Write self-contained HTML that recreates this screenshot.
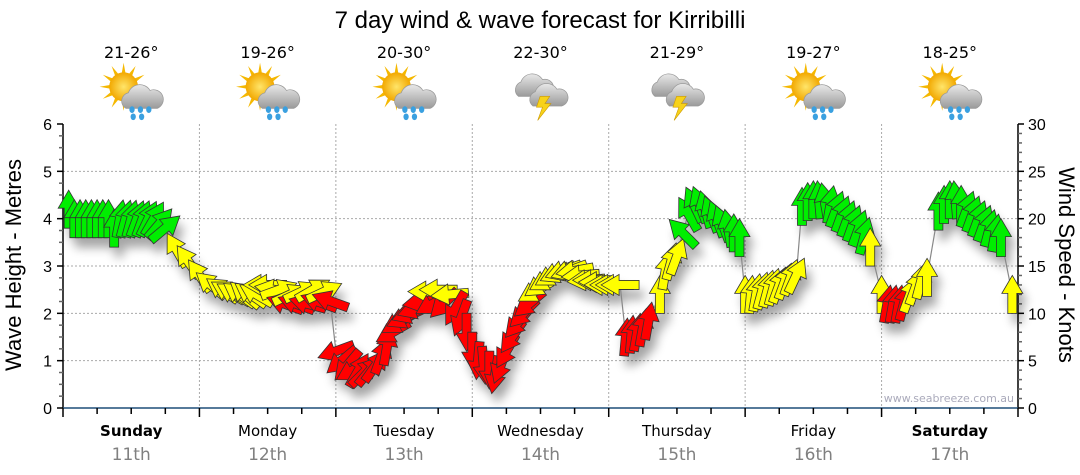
<!DOCTYPE html>
<html><head><meta charset="utf-8"><style>
body{margin:0;background:#fff;width:1080px;height:475px;overflow:hidden}
svg{display:block}
</style></head><body>
<svg id="chart" width="1080" height="475" xmlns="http://www.w3.org/2000/svg" font-family="'Liberation Sans', sans-serif">
<defs>
<filter id="sh" x="-50%" y="-50%" width="200%" height="200%"><feGaussianBlur stdDeviation="5"/></filter>
<radialGradient id="sun" cx="50%" cy="50%" r="50%"><stop offset="0" stop-color="#ffe56a"/><stop offset="1" stop-color="#f2a800"/></radialGradient>
<linearGradient id="cloud" x1="0" y1="0" x2="0" y2="1"><stop offset="0" stop-color="#e8e8e8"/><stop offset="1" stop-color="#9a9a9a"/></linearGradient>
</defs>
<text x="540" y="28" text-anchor="middle" font-size="24" fill="#000">7 day wind &amp; wave forecast for Kirribilli</text>
<g id="grid"></g>
<g id="axes"></g>
<g id="top"></g>
<g id="shadows" filter="url(#sh)" opacity="0.35"></g>
<polyline id="conn" fill="none" stroke="#888" stroke-width="1.2"/>
<g id="arrows"></g>
<text x="1014" y="402" text-anchor="end" font-size="11" fill="#aab" font-family="'DejaVu Sans', sans-serif">www.seabreeze.com.au</text>
<text transform="translate(21,265) rotate(-90)" text-anchor="middle" font-size="22">Wave Height - Metres</text>
<text transform="translate(1059,265) rotate(90)" text-anchor="middle" font-size="22">Wind Speed - Knots</text>
</svg>
<script>
const days=["Sunday","Monday","Tuesday","Wednesday","Thursday","Friday","Saturday"];
const dates=["11th","12th","13th","14th","15th","16th","17th"];
const temps=["21-26°","19-26°","20-30°","22-30°","21-29°","19-27°","18-25°"];
const icons=["rain","rain","rain","storm","storm","rain","rain"];
const waveTicks=[0,1,2,3,4,5,6];
const windTicks=[0,5,10,15,20,25,30];
const hours=[1,2,3,4,5,6,7,8,9,10,11,12,13,14,15,16,17,18,20,22,24,26,28,29,30,31,32,33,34,35,36,37,38,39,40,41,42,43,44,45,46,47,
48,49,50,51,52,53,54,55,56,57,58,59,60,61,62,63,64,65,66,67,68,69,70,71,72,73,74,
75,76,77,78,79,80,81,82,83,84,85,86,87,88,89,90,91,92,93,94,95,96,97,98,
99,100,101,102,103,105,106,107,108,109,110,111,112,113,114,115,116,117,118,119,
120,121,122,123,124,125,126,127,128,129,130,131,132,133,134,135,136,137,138,139,140,141,142,
144,145,146,147,148,149,150,151,152,154,155,156,157,158,159,160,161,162,163,164,165,167];
const speeds=[21,20,20,20,20,20,20,20,19,20,20,20,20,20,20,20,19.5,19,16.7,15.5,14,13,12.5,12.3,12.1,12,12,12,12,13,13,12.5,12.5,11,12,11,12.3,11,12.5,11.2,12.3,11.3,
6,5,4.5,4,4,3.8,4,4.5,5.5,6.5,8,9,9.5,10,10.5,11.2,12.3,11,12.5,11,12,10.5,9.5,8,6,5,4.5,
4,3.5,4.5,6,7.5,9,10,11,12.3,13,13.5,14,14.3,14.5,14.5,14.5,14,13.5,13.5,13.3,13,13,13,13,
7.5,7.8,8,8.5,9.2,12,14.5,15.5,16,18.5,20.5,21.5,21.5,21,20.5,20,19.5,19,18.5,18,
12,12,12.2,12.4,12.6,12.8,13,13.4,13.8,14,21.3,21.8,22,22,21.8,21.5,21,20.5,20,19.5,19,18.2,17,
12,11,11,11,11.2,12,12.8,13.5,13.8,20.8,21.5,22,22,21.5,21,20.5,20,19.5,19,18.5,18,12];
const headings=[0,0,0,0,0,0,0,0,0,10,15,15,20,20,25,30,40,50,-30,-35,-35,-50,-55,-60,-60,-55,-50,-55,-60,-90,-90,-80,70,-70,65,-70,65,-75,60,-70,65,-70,
-110,-130,-140,-120,30,45,40,35,20,10,-120,-120,-115,-110,-110,-100,-90,-120,-90,-135,-95,-150,-160,180,180,185,175,
180,190,200,210,215,220,225,230,-120,-125,-120,-120,-115,-110,-110,-100,-95,-95,-90,-90,-90,-90,-90,-90,
5,5,10,10,10,0,10,15,20,-45,-30,-25,-20,-15,-20,-20,-20,-10,0,0,
0,5,10,15,15,15,20,20,20,25,0,0,0,-5,-10,10,20,20,20,20,20,15,0,
0,10,10,10,15,20,20,15,0,0,0,0,-5,0,20,20,20,20,15,10,0,0];
const NS="http://www.w3.org/2000/svg";
const L=63,R=1018,T=124,B=408;
const xT=h=>L+h*(R-L)/168;
const yW=m=>B-m*(B-T)/6;
const yK=k=>B-k*(B-T)/30;
function mk(tag,attrs,parent){const e=document.createElementNS(NS,tag);for(const k in attrs)e.setAttribute(k,attrs[k]);parent.appendChild(e);return e;}
const grid=document.getElementById('grid'),axes=document.getElementById('axes'),top_=document.getElementById('top');
waveTicks.forEach(v=>{if(v>0&&v<6){const g=mk('line',{x1:L,x2:R,y1:yW(v),y2:yW(v),stroke:'#aaa','stroke-dasharray':'2,2'},grid);

}});
for(let d=1;d<7;d++){const g=mk('line',{x1:xT(d*24),x2:xT(d*24),y1:T,y2:B,stroke:'#aaa','stroke-dasharray':'2,2'},grid);

}
mk('line',{x1:L,x2:L,y1:T,y2:B,stroke:'#000','stroke-width':1.5},axes);
mk('line',{x1:R,x2:R,y1:T,y2:B,stroke:'#000','stroke-width':1.5},axes);
const xa=mk('line',{x1:L,x2:R,y1:B,y2:B,stroke:'#1f4e79','stroke-width':1.5},axes);


for(let i=0;i<=24;i++){const m=i*0.25;const major=i%4===0;mk('line',{x1:L-(major?6:4),x2:L,y1:yW(m),y2:yW(m),stroke:major?'#000':'#666','stroke-width':1.5},axes);}
for(let k=0;k<=30;k++){const major=k%5===0;mk('line',{x1:R,x2:R+(major?6:4),y1:yK(k),y2:yK(k),stroke:major?'#000':'#666','stroke-width':1.5},axes);}
waveTicks.forEach(v=>{const t=mk('text',{x:L-11,y:yW(v)+6,'text-anchor':'end','font-size':16},axes);t.textContent=v;

});
windTicks.forEach(v=>{const t=mk('text',{x:R+10,y:yK(v)+6,'font-size':16},axes);t.textContent=v;

});
for(let q=0;q<=28;q++){const x=xT(q*6);const major=q%4===0;mk('line',{x1:x,x2:x,y1:B,y2:B+(major?9:6),stroke:'#000','stroke-width':1.5},axes);}
days.forEach((d,i)=>{const cx=xT(i*24+12);
const t=mk('text',{x:cx,y:436,'text-anchor':'middle','font-size':15,'font-family':"'DejaVu Sans', sans-serif",'font-weight':(i===0||i===6)?'bold':'normal'},axes);t.textContent=d;


const t2=mk('text',{x:cx,y:460,'text-anchor':'middle','font-size':17,fill:'#808080','font-family':"'DejaVu Sans', sans-serif"},axes);t2.textContent=dates[i];


const t3=mk('text',{x:cx,y:58,'text-anchor':'middle','font-size':16,'font-family':"'DejaVu Sans', sans-serif"},top_);t3.textContent=temps[i];


const g=mk('g',{transform:`translate(${cx+2},94) scale(1.2)`},top_);


if(icons[i]==='rain'){
 for(let a=0;a<12;a++){const an=a*30*Math.PI/180;mk('polygon',{points:`${-8+Math.cos(an-0.15)*11},${-6+Math.sin(an-0.15)*11} ${-8+Math.cos(an)*20},${-6+Math.sin(an)*20} ${-8+Math.cos(an+0.15)*11},${-6+Math.sin(an+0.15)*11}`,fill:'#f5b800'},g);}
 mk('circle',{cx:-8,cy:-6,r:12,fill:'url(#sun)'},g);
 mk('path',{d:'M-6,12 a7,7 0 0 1 2,-13 a10,10 0 0 1 18,-2 a8,8 0 0 1 6,15 z',fill:'url(#cloud)',stroke:'#999','stroke-width':0.6},g);
 [[-1,13],[6,13],[13,13],[0,19],[7,19]].forEach(p=>mk('ellipse',{cx:p[0],cy:p[1],rx:2.2,ry:2.8,fill:'#3aa0e0'},g));
}else{
 mk('path',{d:'M-20,2 a7,7 0 0 1 2,-12 a10,10 0 0 1 18,-2 a7,7 0 0 1 4,14 z',fill:'url(#cloud)',stroke:'#999','stroke-width':0.6},g);
 mk('path',{d:'M-8,10 a7,7 0 0 1 2,-12 a10,10 0 0 1 18,-2 a7,7 0 0 1 4,14 z',fill:'url(#cloud)',stroke:'#999','stroke-width':0.6},g);
 mk('polygon',{points:'-2,2 6,2 2,8 7,8 -4,22 0,11 -5,11',fill:'#f7d21a',stroke:'#c90','stroke-width':0.5},g);
}
});
const arrowsG=document.getElementById('arrows'),shG=document.getElementById('shadows');
const shape='M0,-19 L10.5,-1 L4.5,-1 L4.5,19 L-4.5,19 L-4.5,-1 L-10.5,-1 Z';
const pts=[];
hours.forEach((h,i)=>{const x=xT(h),y=yK(speeds[i]);pts.push(x.toFixed(1)+','+y.toFixed(1));
 const s=speeds[i];const col=s>=17.5?'#00ee00':(s>=11.8?'#ffff00':'#ff0000');
 mk('path',{d:shape,transform:`translate(${x+5},${y+10}) rotate(${headings[i]})`,fill:'#000'},shG);
 const a=mk('path',{d:shape,transform:`translate(${x},${y}) rotate(${headings[i]})`,fill:col,stroke:'#333','stroke-width':0.8},arrowsG);
 
 
});
document.getElementById('conn').setAttribute('points',pts.join(' '));
</script>
</body></html>
